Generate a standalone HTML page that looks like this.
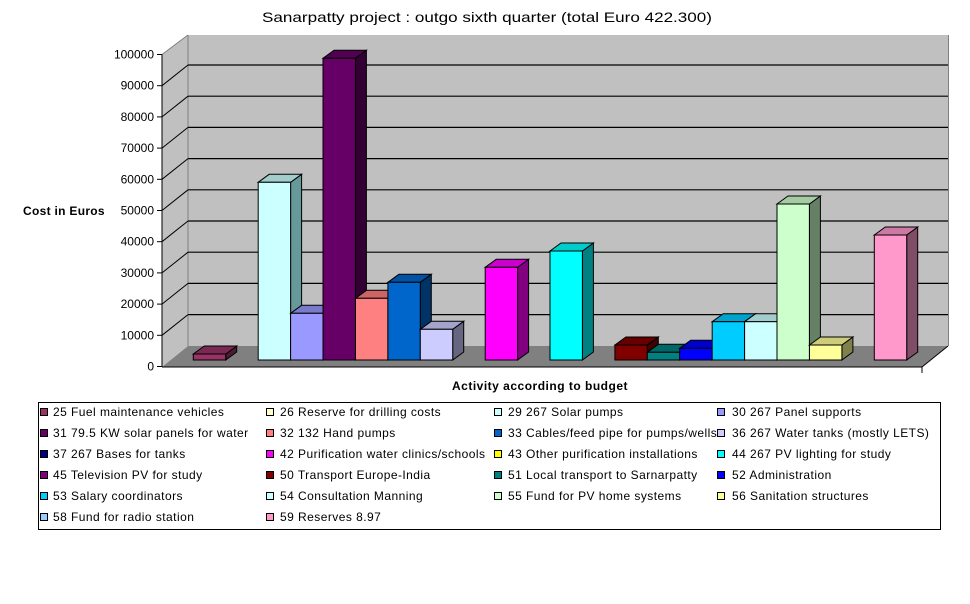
<!DOCTYPE html>
<html><head><meta charset="utf-8"><style>
html,body{margin:0;padding:0;background:#fff;}
svg{display:block;}
text{font-family:"Liberation Sans",Arial,sans-serif;}
</style></head><body>
<svg width="970" height="604" viewBox="0 0 970 604" xmlns="http://www.w3.org/2000/svg">
<rect x="0" y="0" width="970" height="604" fill="#fff"/>
<!-- title -->
<text x="487" y="22" font-size="14" text-anchor="middle" textLength="450" lengthAdjust="spacingAndGlyphs">Sanarpatty project : outgo sixth quarter (total Euro 422.300)</text>
<!-- walls -->
<rect x="188" y="35" width="760" height="311" fill="#c0c0c0"/>
<polygon points="162,54.5 188,35 188,346 162,367" fill="#c0c0c0"/>
<polygon points="162,367 188,346 948,346 922,367" fill="#808080"/>
<line x1="188" y1="35" x2="188" y2="346" stroke="#808080" stroke-width="1"/>
<line x1="948.5" y1="35" x2="948.5" y2="346" stroke="#808080" stroke-width="1"/>
<line x1="162" y1="54.5" x2="188" y2="35" stroke="#808080" stroke-width="1"/>
<!-- gridlines back wall -->
<g stroke="#000" stroke-width="1.2">
<line x1="188" y1="314.6" x2="948" y2="314.6"/>
<line x1="188" y1="283.4" x2="948" y2="283.4"/>
<line x1="188" y1="252.2" x2="948" y2="252.2"/>
<line x1="188" y1="221.0" x2="948" y2="221.0"/>
<line x1="188" y1="189.8" x2="948" y2="189.8"/>
<line x1="188" y1="158.6" x2="948" y2="158.6"/>
<line x1="188" y1="127.4" x2="948" y2="127.4"/>
<line x1="188" y1="96.2" x2="948" y2="96.2"/>
<line x1="188" y1="65.0" x2="948" y2="65.0"/>
</g>
<!-- side wall diagonals -->
<g stroke="#000" stroke-width="1">
<line x1="162" y1="335.3" x2="188" y2="314.6"/>
<line x1="162" y1="304.1" x2="188" y2="283.4"/>
<line x1="162" y1="272.9" x2="188" y2="252.2"/>
<line x1="162" y1="241.7" x2="188" y2="221.0"/>
<line x1="162" y1="210.5" x2="188" y2="189.8"/>
<line x1="162" y1="179.3" x2="188" y2="158.6"/>
<line x1="162" y1="148.1" x2="188" y2="127.4"/>
<line x1="162" y1="116.9" x2="188" y2="96.2"/>
<line x1="162" y1="85.7" x2="188" y2="65.0"/>
</g>
<!-- axes -->
<g stroke="#000" stroke-width="1">
<line x1="162" y1="54.5" x2="162" y2="367"/>
<line x1="162" y1="367" x2="922" y2="367"/>
<line x1="922" y1="367" x2="948" y2="346"/>
<line x1="922" y1="367" x2="922" y2="373"/>
<line x1="157" y1="366.5" x2="162" y2="366.5"/>
<line x1="157" y1="335.3" x2="162" y2="335.3"/>
<line x1="157" y1="304.1" x2="162" y2="304.1"/>
<line x1="157" y1="272.9" x2="162" y2="272.9"/>
<line x1="157" y1="241.7" x2="162" y2="241.7"/>
<line x1="157" y1="210.5" x2="162" y2="210.5"/>
<line x1="157" y1="179.3" x2="162" y2="179.3"/>
<line x1="157" y1="148.1" x2="162" y2="148.1"/>
<line x1="157" y1="116.9" x2="162" y2="116.9"/>
<line x1="157" y1="85.7" x2="162" y2="85.7"/>
<line x1="157" y1="54.5" x2="162" y2="54.5"/>
</g>
<g font-size="12" text-anchor="end" fill="#000">
<text x="154" y="370.5">0</text>
<text x="154" y="339.3">10000</text>
<text x="154" y="308.1">20000</text>
<text x="154" y="276.9">30000</text>
<text x="154" y="245.7">40000</text>
<text x="154" y="214.5">50000</text>
<text x="154" y="183.3">60000</text>
<text x="154" y="152.1">70000</text>
<text x="154" y="120.9">80000</text>
<text x="154" y="89.7">90000</text>
<text x="154" y="58.5">100000</text>
</g>
<text x="23" y="215" font-size="12" font-weight="bold" letter-spacing="0.3">Cost in Euros</text>
<text x="452" y="390" font-size="12" font-weight="bold" letter-spacing="0.5">Activity according to budget</text>

<!-- bars -->
<g stroke="#000" stroke-width="1" stroke-linejoin="miter">
<!-- 25 -->
<polygon points="225.7,354 236.7,346 236.7,352 225.7,360" fill="#4d1a33"/>
<polygon points="193.3,354 204.3,346 236.7,346 225.7,354" fill="#7a2952"/>
<rect x="193.3" y="354" width="32.4" height="6" fill="#993366"/>
<!-- 29 -->
<polygon points="290.6,182.3 301.6,174.3 301.6,352 290.6,360" fill="#669999"/>
<polygon points="258.2,182.3 269.2,174.3 301.6,174.3 290.6,182.3" fill="#a3cccc"/>
<rect x="258.2" y="182.3" width="32.4" height="177.7" fill="#ccffff"/>
<!-- 30 -->
<polygon points="323,313.3 334,305.3 334,352 323,360" fill="#4d4d80"/>
<polygon points="290.6,313.3 301.6,305.3 334,305.3 323,313.3" fill="#7a7acc"/>
<rect x="290.6" y="313.3" width="32.4" height="46.7" fill="#9999ff"/>
<!-- 31 -->
<polygon points="355.4,58.3 366.4,50.3 366.4,352 355.4,360" fill="#330033"/>
<polygon points="323,58.3 334,50.3 366.4,50.3 355.4,58.3" fill="#520052"/>
<rect x="323" y="58.3" width="32.4" height="301.7" fill="#660066"/>
<!-- 32 -->
<polygon points="387.9,298.3 398.9,290.3 398.9,352 387.9,360" fill="#804040"/>
<polygon points="355.5,298.3 366.5,290.3 398.9,290.3 387.9,298.3" fill="#cc6666"/>
<rect x="355.5" y="298.3" width="32.4" height="61.7" fill="#ff8080"/>
<!-- 33 -->
<polygon points="420.3,282.3 431.3,274.3 431.3,352 420.3,360" fill="#003366"/>
<polygon points="387.9,282.3 398.9,274.3 431.3,274.3 420.3,282.3" fill="#0052a3"/>
<rect x="387.9" y="282.3" width="32.4" height="77.7" fill="#0066cc"/>
<!-- 36 -->
<polygon points="452.7,329.3 463.7,321.3 463.7,352 452.7,360" fill="#666680"/>
<polygon points="420.3,329.3 431.3,321.3 463.7,321.3 452.7,329.3" fill="#a3a3cc"/>
<rect x="420.3" y="329.3" width="32.4" height="30.7" fill="#ccccff"/>
<!-- 42 -->
<polygon points="517.6,267.3 528.6,259.3 528.6,352 517.6,360" fill="#800080"/>
<polygon points="485.2,267.3 496.2,259.3 528.6,259.3 517.6,267.3" fill="#cc00cc"/>
<rect x="485.2" y="267.3" width="32.4" height="92.7" fill="#ff00ff"/>
<!-- 44 -->
<polygon points="582.4,251 593.4,243 593.4,352 582.4,360" fill="#008080"/>
<polygon points="550,251 561,243 593.4,243 582.4,251" fill="#00cccc"/>
<rect x="550" y="251" width="32.4" height="109" fill="#00ffff"/>
<!-- 50 -->
<polygon points="647.3,345 658.3,337 658.3,352 647.3,360" fill="#400000"/>
<polygon points="614.9,345 625.9,337 658.3,337 647.3,345" fill="#660000"/>
<rect x="614.9" y="345" width="32.4" height="15" fill="#800000"/>
<!-- 51 -->
<polygon points="679.7,352.3 690.7,344.3 690.7,352 679.7,360" fill="#004040"/>
<polygon points="647.3,352.3 658.3,344.3 690.7,344.3 679.7,352.3" fill="#006666"/>
<rect x="647.3" y="352.3" width="32.4" height="7.7" fill="#008080"/>
<!-- 52 -->
<polygon points="712.1,348.3 723.1,340.3 723.1,352 712.1,360" fill="#000080"/>
<polygon points="679.7,348.3 690.7,340.3 723.1,340.3 712.1,348.3" fill="#0000cc"/>
<rect x="679.7" y="348.3" width="32.4" height="11.7" fill="#0000ff"/>
<!-- 53 -->
<polygon points="744.6,321.7 755.6,313.7 755.6,352 744.6,360" fill="#006680"/>
<polygon points="712.2,321.7 723.2,313.7 755.6,313.7 744.6,321.7" fill="#00a3cc"/>
<rect x="712.2" y="321.7" width="32.4" height="38.3" fill="#00ccff"/>
<!-- 54 -->
<polygon points="777,321.7 788,313.7 788,352 777,360" fill="#669999"/>
<polygon points="744.6,321.7 755.6,313.7 788,313.7 777,321.7" fill="#a3cccc"/>
<rect x="744.6" y="321.7" width="32.4" height="38.3" fill="#ccffff"/>
<!-- 55 -->
<polygon points="809.4,204 820.4,196 820.4,352 809.4,360" fill="#668066"/>
<polygon points="777,204 788,196 820.4,196 809.4,204" fill="#a3cca3"/>
<rect x="777" y="204" width="32.4" height="156" fill="#ccffcc"/>
<!-- 56 -->
<polygon points="841.9,345 852.9,337 852.9,352 841.9,360" fill="#80804d"/>
<polygon points="809.5,345 820.5,337 852.9,337 841.9,345" fill="#cccc7a"/>
<rect x="809.5" y="345" width="32.4" height="15" fill="#ffff99"/>
<!-- 59 -->
<polygon points="906.7,235 917.7,227 917.7,352 906.7,360" fill="#804d66"/>
<polygon points="874.3,235 885.3,227 917.7,227 906.7,235" fill="#cc7aa3"/>
<rect x="874.3" y="235" width="32.4" height="125" fill="#ff99cc"/>
</g>

<!-- legend -->
<rect x="38.5" y="402.5" width="902" height="127" fill="#fff" stroke="#000" stroke-width="1"/>
<g stroke="#000" stroke-width="1">
<rect x="40.5" y="408.5" width="7" height="7" fill="#993366"/>
<rect x="266.5" y="408.5" width="7" height="7" fill="#ffffcc"/>
<rect x="494.5" y="408.5" width="7" height="7" fill="#ccffff"/>
<rect x="717.5" y="408.5" width="7" height="7" fill="#9999ff"/>

<rect x="40.5" y="429.5" width="7" height="7" fill="#660066"/>
<rect x="266.5" y="429.5" width="7" height="7" fill="#ff8080"/>
<rect x="494.5" y="429.5" width="7" height="7" fill="#0066cc"/>
<rect x="717.5" y="429.5" width="7" height="7" fill="#ccccff"/>

<rect x="40.5" y="450.5" width="7" height="7" fill="#000080"/>
<rect x="266.5" y="450.5" width="7" height="7" fill="#ff00ff"/>
<rect x="494.5" y="450.5" width="7" height="7" fill="#ffff00"/>
<rect x="717.5" y="450.5" width="7" height="7" fill="#00ffff"/>

<rect x="40.5" y="471.5" width="7" height="7" fill="#800080"/>
<rect x="266.5" y="471.5" width="7" height="7" fill="#800000"/>
<rect x="494.5" y="471.5" width="7" height="7" fill="#008080"/>
<rect x="717.5" y="471.5" width="7" height="7" fill="#0000ff"/>

<rect x="40.5" y="492.5" width="7" height="7" fill="#00ccff"/>
<rect x="266.5" y="492.5" width="7" height="7" fill="#ccffff"/>
<rect x="494.5" y="492.5" width="7" height="7" fill="#ccffcc"/>
<rect x="717.5" y="492.5" width="7" height="7" fill="#ffff99"/>

<rect x="40.5" y="513.5" width="7" height="7" fill="#99ccff"/>
<rect x="266.5" y="513.5" width="7" height="7" fill="#ff99cc"/>
</g>
<g font-size="12" fill="#000" letter-spacing="0.45">
<text x="53" y="416">25 Fuel maintenance vehicles</text>
<text x="280" y="416">26 Reserve for drilling costs</text>
<text x="508" y="416">29 267 Solar pumps</text>
<text x="732" y="416">30 267 Panel supports</text>

<text x="53" y="437">31 79.5 KW solar panels for water</text>
<text x="280" y="437">32 132 Hand pumps</text>
<text x="508" y="437">33 Cables/feed pipe for pumps/wells</text>
<text x="732" y="437">36 267 Water tanks (mostly LETS)</text>

<text x="53" y="458">37 267 Bases for tanks</text>
<text x="280" y="458">42 Purification water clinics/schools</text>
<text x="508" y="458">43 Other purification installations</text>
<text x="732" y="458">44 267 PV lighting for study</text>

<text x="53" y="479">45 Television PV for study</text>
<text x="280" y="479">50 Transport Europe-India</text>
<text x="508" y="479">51 Local transport to Sarnarpatty</text>
<text x="732" y="479">52 Administration</text>

<text x="53" y="500">53 Salary coordinators</text>
<text x="280" y="500">54 Consultation Manning</text>
<text x="508" y="500">55 Fund for PV home systems</text>
<text x="732" y="500">56 Sanitation structures</text>

<text x="53" y="521">58 Fund for radio station</text>
<text x="280" y="521">59 Reserves 8.97</text>
</g>
</svg>
</body></html>
